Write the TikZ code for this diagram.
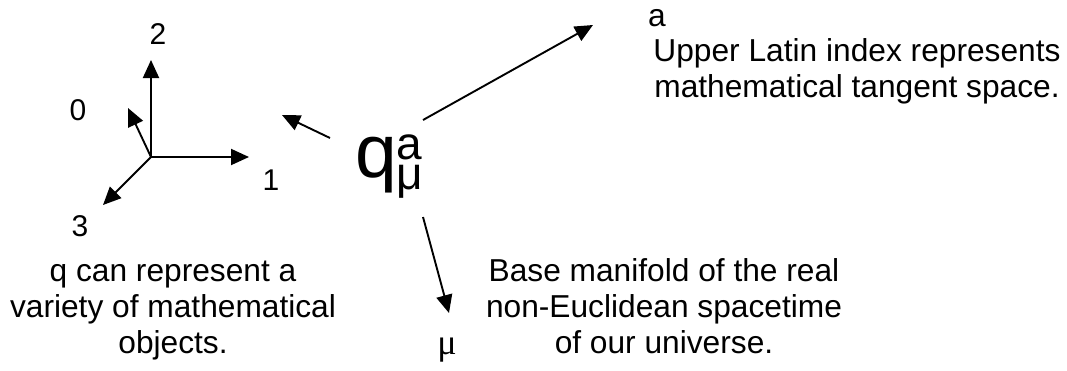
\documentclass[tikz,border=0pt]{standalone}
\usepackage{fontspec}
\setmainfont{Liberation Sans}
\newfontfamily\serifmu{Liberation Serif}
\usetikzlibrary{arrows.meta}
\tikzset{
  fleche/.style={-{Triangle[length=18pt,width=16pt]}, line width=1.9pt},
  texte/.style={font=\fontsize{31.7}{36}\selectfont, inner sep=0pt, align=center},
  indice/.style={font=\fontsize{30}{30}\selectfont, inner sep=0pt}
}
\begin{document}
\begin{tikzpicture}[x=1pt,y=-1pt]
    \useasboundingbox (0,0) rectangle (1067,370);

    % Repere
    \coordinate (O) at (151,157);
    \coordinate (e0) at (128,108);
    \coordinate (e1) at (249,157);
    \coordinate (e2) at (151,60);
    \coordinate (e3) at (103,205);
    \draw[fleche] (O) -- (e0);
    \draw[fleche] (O) -- (e1);
    \draw[fleche] (O) -- (e2);
    \draw[fleche] (O) -- (e3);

    % Graduation des axes
    \node[indice] (l0) at (78,110) {0};
    \node[indice] (l1) at (271,180) {1};
    \node[indice] (l2) at (158,34) {2};
    \node[indice] (l3) at (80,226) {3};

    % Symbole q
    \node[anchor=base west, inner sep=0pt, font=\fontsize{75}{75}\selectfont] (q) at (355,177)
        {q\rlap{\raisebox{18pt}{\fontsize{46}{46}\selectfont a}}\raisebox{-12pt}{\fontsize{46}{46}\selectfont μ}};

    % Fleches depuis q
    \coordinate (qg) at (330,138);
    \coordinate (fg) at (282,115);
    \coordinate (qh) at (423,120);
    \coordinate (fh) at (593,25);
    \coordinate (qb) at (423,217);
    \coordinate (fb) at (449,313);
    \draw[fleche] (qg) -- (fg);
    \draw[fleche] (qh) -- (fh);
    \draw[fleche] (qb) -- (fb);

    % Textes
    \node[texte, anchor=base west] (a) at (648,26) {a};
    \node[texte, anchor=base] (haut) at (857,97) {Upper Latin index represents\\mathematical tangent space.};
    \node[texte, anchor=base] (gauche) at (173,353) {q can represent a\\variety of mathematical\\objects.};
    \node[texte, anchor=base] (bas) at (664,353) {Base manifold of the real\\non-Euclidean spacetime\\of our universe.};
    \node[font=\serifmu\fontsize{36}{36}\selectfont, inner sep=0pt] (mu) at (447,350) {μ};

\end{tikzpicture}
\end{document}
